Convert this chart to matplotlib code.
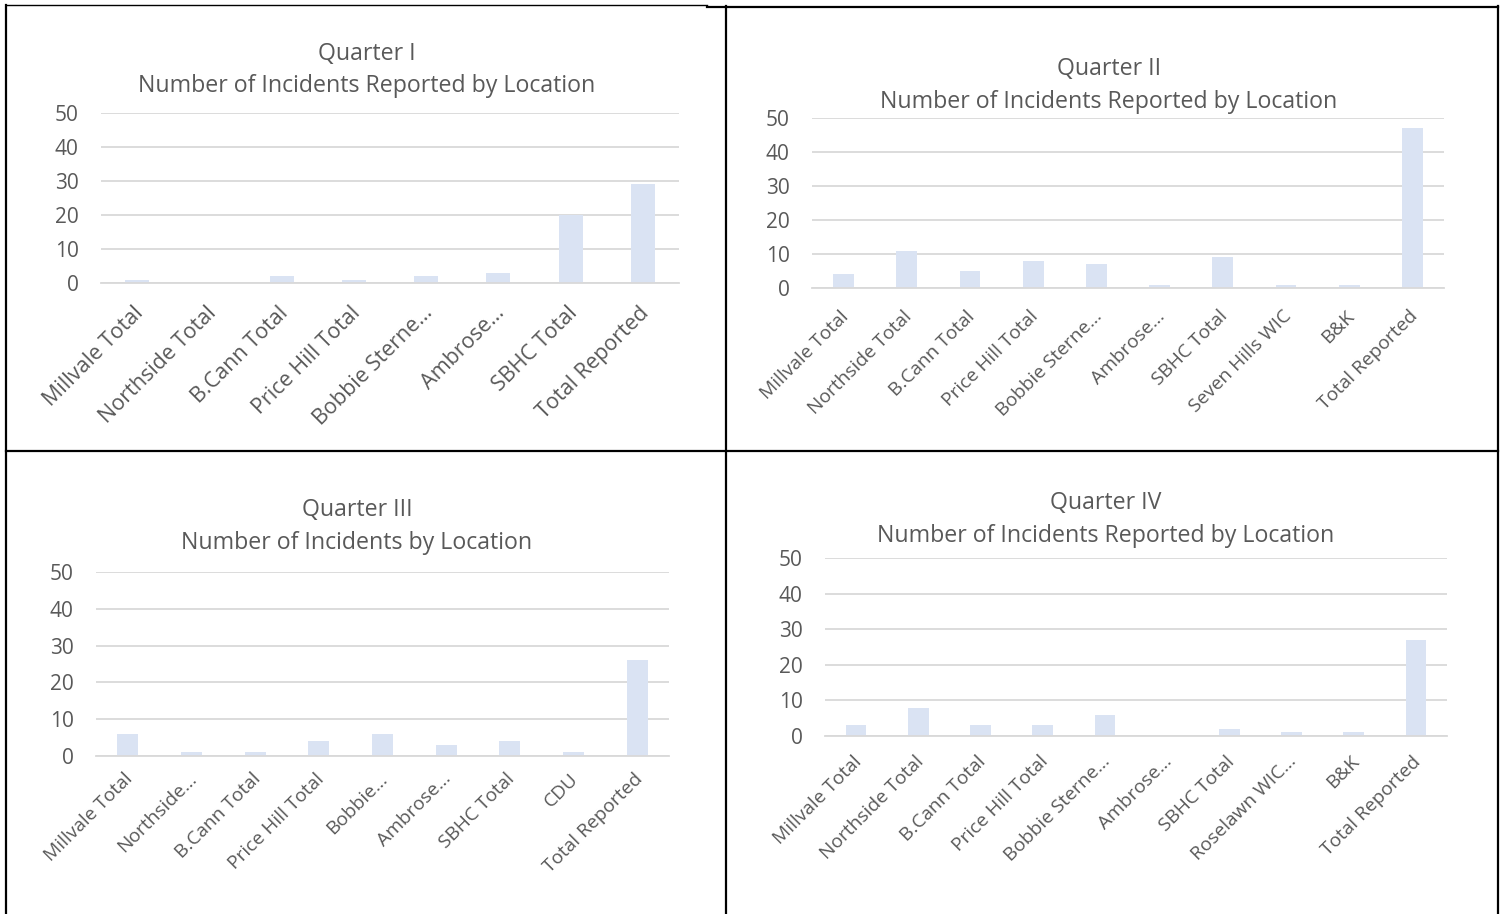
import matplotlib
matplotlib.use("Agg")
import matplotlib.pyplot as plt
from matplotlib.lines import Line2D
from matplotlib.transforms import ScaledTranslation

plt.rcParams['font.family'] = ['Open Sans', 'DejaVu Sans']

# Quarterly incident counts by location
q1_labels = ["Millvale Total", "Northside Total", "B.Cann Total", "Price Hill Total",
             "Bobbie Sterne…", "Ambrose…", "SBHC Total", "Total Reported"]
q1_values = [1, 0, 2, 1, 2, 3, 20, 29]

q2_labels = ["Millvale Total", "Northside Total", "B.Cann Total", "Price Hill Total",
             "Bobbie Sterne…", "Ambrose…", "SBHC Total", "Seven Hills WIC", "B&K",
             "Total Reported"]
q2_values = [4, 11, 5, 8, 7, 1, 9, 1, 1, 47]

q3_labels = ["Millvale Total", "Northside…", "B.Cann Total", "Price Hill Total",
             "Bobbie…", "Ambrose…", "SBHC Total", "CDU", "Total Reported"]
q3_values = [6, 1, 1, 4, 6, 3, 4, 1, 26]

q4_labels = ["Millvale Total", "Northside Total", "B.Cann Total", "Price Hill Total",
             "Bobbie Sterne…", "Ambrose…", "SBHC Total", "Roselawn WIC…", "B&K",
             "Total Reported"]
q4_values = [3, 8, 3, 3, 6, 0, 2, 1, 1, 27]

quarter_names = ["Quarter I", "Quarter II", "Quarter III", "Quarter IV"]
subtitles = [
    "Number of Incidents Reported by Location",
    "Number of Incidents Reported by Location",
    "Number of Incidents by Location",
    "Number of Incidents Reported by Location",
]
y_ticks = [0, 10, 20, 30, 40, 50]

W, H = 1505, 914
fig = plt.figure(figsize=(W / 100, H / 100), dpi=100)
fig.patch.set_facecolor("white")

TEXT = "#595959"
GRID = "#D9D9D9"
BAR = "#DAE3F3"

# plot areas in pixels: x_left, x_right, y_zero, y_fifty, title centre x,
# title line y positions, category label size and padding
panels = [
    (101, 679, 283, 113, 367, 54, 86, 15.5, 11, q1_labels, q1_values, 0),
    (812, 1444, 288, 118, 1109, 69, 102, 13.8, 11, q2_labels, q2_values, 1),
    (96, 669, 756, 572, 357, 510, 543, 13.8, 7, q3_labels, q3_values, 2),
    (825, 1447, 736, 558, 1106, 503, 536, 13.8, 9, q4_labels, q4_values, 3),
]

label_shift = ScaledTranslation(-4 / 100, -4 / 100, fig.dpi_scale_trans)

for x0, x1, yz, yf, tcx, ty1, ty2, lsize, lpad, labels, values, k in panels:
    ax = fig.add_axes([x0 / W, 1 - yz / H, (x1 - x0) / W, (yz - yf) / H])
    n = len(labels)
    pos = list(range(n))
    ax.bar(pos, values, width=0.33, color=BAR, zorder=2)
    ax.set_xlim(-0.5, n - 0.5)
    ax.set_ylim(0, 50)
    ax.set_yticks(y_ticks)
    ax.set_yticklabels([str(t) for t in y_ticks])
    ax.yaxis.grid(True, color=GRID, linewidth=1.3, zorder=0)
    ax.set_axisbelow(True)
    for s in ["top", "right", "left"]:
        ax.spines[s].set_visible(False)
    ax.spines["bottom"].set_color(GRID)
    ax.spines["bottom"].set_linewidth(1.3)
    ax.tick_params(axis="y", length=0, pad=16, labelsize=15, labelcolor=TEXT)
    ax.tick_params(axis="x", length=0, pad=lpad, labelsize=lsize, labelcolor=TEXT)
    ax.set_xticks(pos)
    ax.set_xticklabels(labels, rotation=45, ha="right", rotation_mode="anchor")
    for lab in ax.get_xticklabels():
        lab.set_transform(lab.get_transform() + label_shift)
    ax.set_facecolor("none")
    fig.text(tcx / W, 1 - ty1 / H, quarter_names[k], ha="center", va="center",
             fontsize=16.7, color=TEXT)
    fig.text(tcx / W, 1 - ty2 / H, subtitles[k], ha="center", va="center",
             fontsize=16.7, color=TEXT)

# table borders framing the four charts
def hline(y, xa, xb, lw=1.6):
    fig.add_artist(Line2D([xa / W, xb / W], [1 - y / H, 1 - y / H], color="black",
                          linewidth=lw, transform=fig.transFigure))

def vline(x, ya, yb, lw=1.6):
    fig.add_artist(Line2D([x / W, x / W], [1 - ya / H, 1 - yb / H], color="black",
                          linewidth=lw, transform=fig.transFigure))

hline(5, 6, 707, lw=1.0)
hline(6.5, 707, 1498)
hline(451, 6, 1498)
vline(6, 5, 914)
vline(726, 6, 914)
vline(1498, 6, 914)

fig.savefig("out.png", dpi=100, facecolor="white")
